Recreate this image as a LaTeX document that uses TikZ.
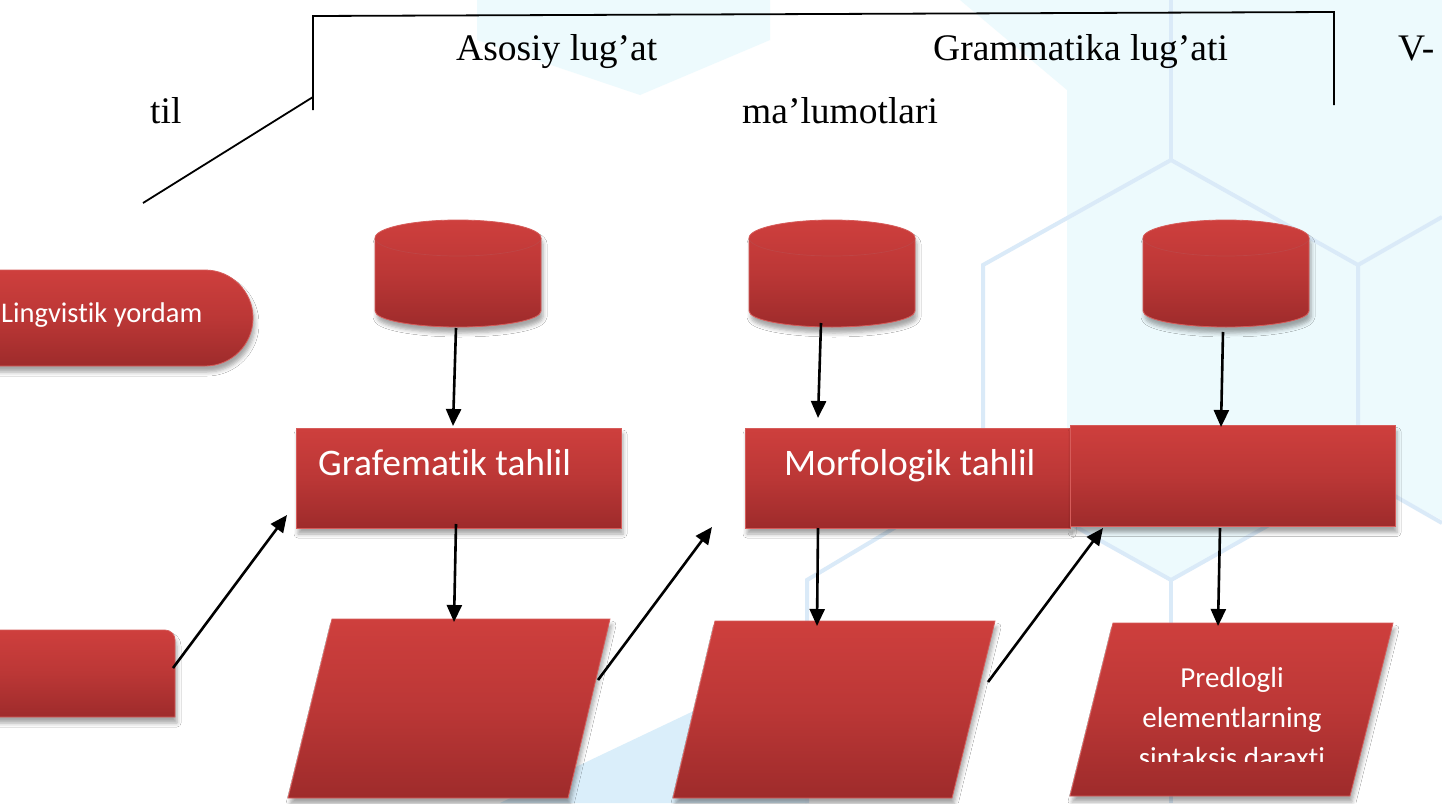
\documentclass[tikz,border=0pt]{standalone}
\usepackage{fontspec}
\setmainfont{Liberation Serif}
\newfontfamily\calfont[Ligatures=NoCommon]{Carlito}
\usetikzlibrary{arrows.meta,shadows.blur,shapes.misc}
\definecolor{rtop}{RGB}{206,63,61}
\definecolor{rmid}{RGB}{187,55,54}
\definecolor{rbot}{RGB}{158,43,43}
\definecolor{redge}{RGB}{214,92,90}
\definecolor{cylline}{RGB}{190,70,70}
\definecolor{hexfill}{RGB}{237,250,253}
\definecolor{hexline}{RGB}{218,234,248}
\definecolor{blueband}{RGB}{218,238,250}
\tikzset{
  redbox/.style={top color=rtop, bottom color=rbot, middle color=rmid,
    draw=redge, line width=0.8pt,
    blur shadow={shadow xshift=2pt, shadow yshift=-6pt, shadow blur radius=4pt, shadow opacity=35}},
  arrtip/.tip={Triangle[length=17pt,width=15pt]},
  arr/.style={draw=black, line width=2.6pt, arrows={-arrtip}},
  bracket/.style={draw=black, line width=1.8pt},
  serif/.style={font=\fontsize{37.5}{44}\selectfont, inner sep=0pt},
  caltext/.style={font=\calfont\fontsize{37.5}{44}\selectfont, text=white, inner sep=0pt},
  calsmall/.style={font=\calfont\fontsize{29}{40}\selectfont, text=white, inner sep=0pt, align=center},
  hexedge/.style={draw=hexline, line width=4pt, line join=miter},
}
\begin{document}
\begin{tikzpicture}[x=1pt,y=-1pt]
\useasboundingbox (0,0) rectangle (1442,803);
% ---------- faint background ----------
\fill[white] (0,0) rectangle (1442,803);
\fill[hexfill] (960,0) -- (1442,0) -- (1442,520) -- (1358,475) -- (1171,580) -- (1067,520) -- (1067,90) -- cycle;
\fill[hexfill] (477,0) -- (770,0) -- (770,40) -- (640,95) -- (477,40) -- cycle;
\fill[blueband] (500,803) -- (700,708) -- (807,650) -- (807,803) -- cycle;
\draw[hexedge] (1171,0) -- (1171,160);
\draw[hexedge] (983,475) -- (983,265) -- (1171,160) -- (1358,265) -- (1442,217);
\draw[hexedge] (1358,265) -- (1358,475) -- (1442,523);
\draw[hexedge] (807,803) -- (807,580) -- (983,475) -- (1171,580) -- (1358,475);
\draw[hexedge] (1171,580) -- (1171,803);
% ---------- bracket and headings ----------
\coordinate (bl) at (313,16);
\coordinate (br) at (1334,12);
\coordinate (blb) at (313,110);
\coordinate (brb) at (1334,105);
\coordinate (bd1) at (313,97);
\coordinate (bd2) at (143,203);
\draw[bracket] (blb) -- (bl) -- (br) -- (brb);
\draw[bracket] (bd1) -- (bd2);
\node[serif, anchor=base west] (h1) at (456,60) {Asosiy lug’at};
\node[serif, anchor=base west] (h2) at (933,60) {Grammatika lug’ati};
\node[serif, anchor=base west] (h3) at (1398,60) {V-};
\node[serif, anchor=base west] (h4) at (150,123) {til};
\node[serif, anchor=base west] (h5) at (742,123) {ma’lumotlari};
% ---------- left shapes ----------
\node[redbox, rounded rectangle, rounded rectangle left arc=none,
      minimum width=298pt, minimum height=96pt, inner sep=0pt] (ling) at (104,318) {};
\node[font=\calfont\fontsize{28.5}{34}\selectfont, text=white, inner sep=0pt, anchor=base west] (lingt) at (1,322) {Lingvistik yordam};
\path[redbox] (-45,717) -- (-45,630) -- (165,630) arc[start angle=-90, end angle=0, radius=10] -- (175,717) -- cycle;
\coordinate (lb) at (173,668);
% ---------- cylinders ----------
\foreach \cx/\nm in {458/c1, 832/c2, 1226/c3}{
  \path[redbox] (\cx-83,238) -- (\cx-83,311) arc[x radius=83, y radius=16, start angle=180, end angle=0]
     -- (\cx+83,238) arc[x radius=83, y radius=18, start angle=0, end angle=-180] -- cycle;
  \draw[cylline, line width=0.7pt] (\cx-83,238) arc[x radius=83, y radius=18, start angle=180, end angle=0];
}
% ---------- rectangles ----------
\node[redbox, minimum width=325pt, minimum height=100pt, inner sep=0pt] (r1) at (458.5,478) {};
\node[redbox, minimum width=325pt, minimum height=100pt, inner sep=0pt] (r2) at (907.5,478) {};
\node[redbox, minimum width=325pt, minimum height=101pt, inner sep=0pt] (r3) at (1232.5,476) {};
\node[caltext, anchor=base west] (r1t) at (318,475) {Grafematik tahlil};
\node[caltext, anchor=base west] (r2t) at (784,475) {Morfologik tahlil};
% ---------- parallelograms ----------
\path[redbox] (332,619) -- (610,619) -- (568,798) -- (288,798) -- cycle;
\path[redbox] (715,621) -- (995,621) -- (952,798) -- (673,798) -- cycle;
\path[redbox] (1113,623) -- (1393,623) -- (1350,796) -- (1070,796) -- cycle;
\begin{scope}
  \clip (1060,600) rectangle (1400,761);
  \node[calsmall, anchor=base] (p3a) at (1232,687) {Predlogli};
  \node[calsmall, anchor=base] (p3b) at (1232,727) {elementlarning};
  \node[calsmall, anchor=base] (p3c) at (1232,767) {sintaksis daraxti};
\end{scope}
% ---------- connector end points ----------
\coordinate (c1o) at (456,328);  \coordinate (r1i) at (453,426);
\coordinate (c2o) at (821,323);  \coordinate (r2i) at (818,418);
\coordinate (c3o) at (1223,332); \coordinate (r3i) at (1221,427);
\coordinate (r1o) at (456,524);  \coordinate (p1i) at (454,622);
\coordinate (r2o) at (818,528);  \coordinate (p2i) at (817,626);
\coordinate (r3o) at (1220,528); \coordinate (p3i) at (1218,626);
\coordinate (lbt) at (287,515);
\coordinate (p1o) at (598,680);  \coordinate (gap) at (712,527);
\coordinate (p2o) at (988,682);  \coordinate (r3l) at (1103,528);
\draw[arr] (c1o) -- (r1i);
\draw[arr] (c2o) -- (r2i);
\draw[arr] (c3o) -- (r3i);
\draw[arr] (r1o) -- (p1i);
\draw[arr] (r2o) -- (p2i);
\draw[arr] (r3o) -- (p3i);
\draw[arr] (lb) -- (lbt);
\draw[arr] (p1o) -- (gap);
\draw[arr] (p2o) -- (r3l);
\end{tikzpicture}
\end{document}
